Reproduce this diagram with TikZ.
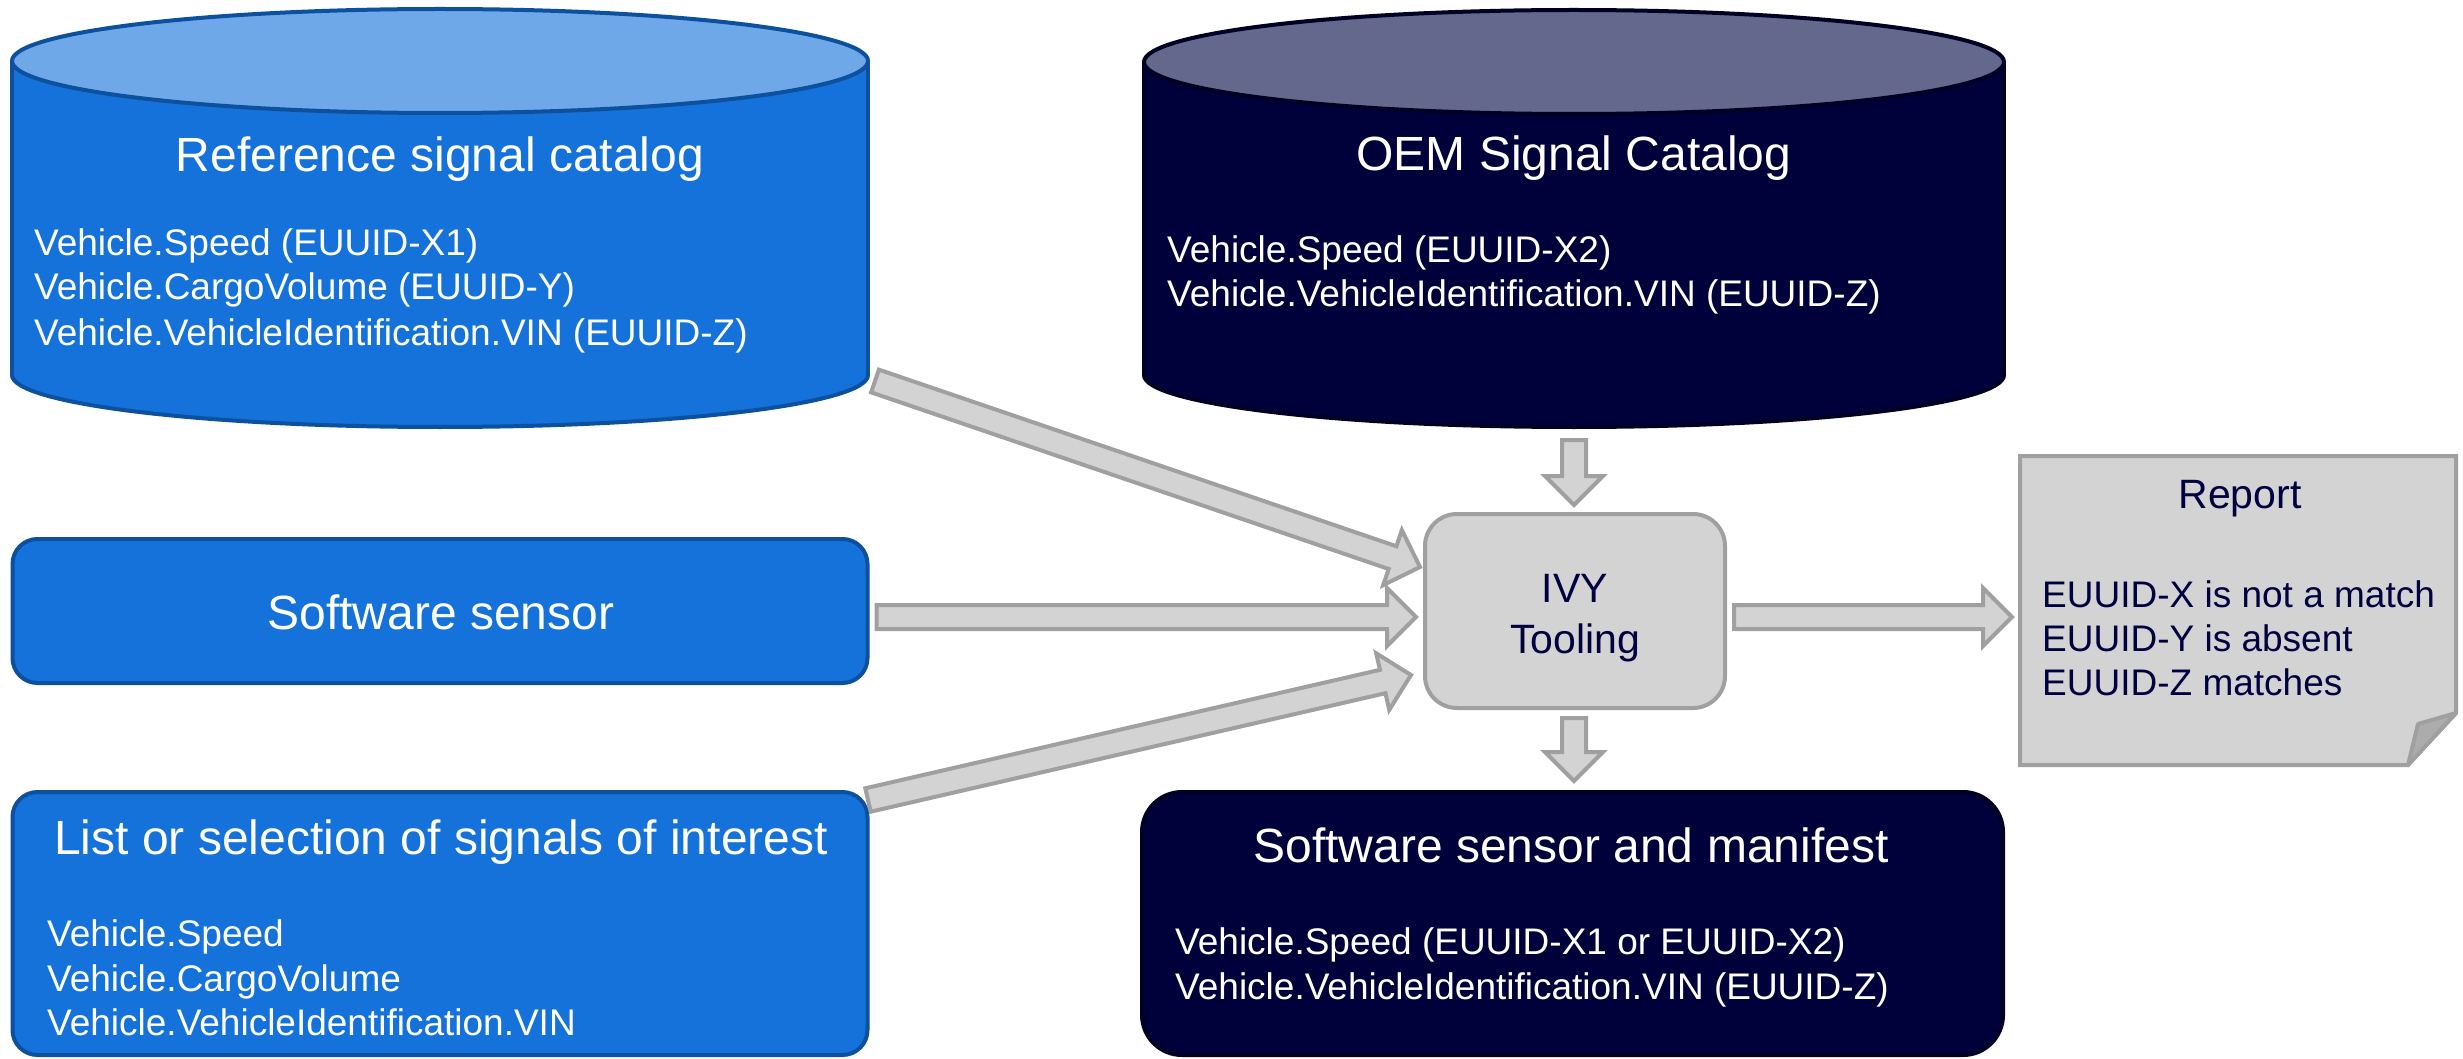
\documentclass[tikz,border=0pt]{standalone}
\usepackage{fontspec}
\setmainfont{Liberation Sans}
\usetikzlibrary{calc}

\definecolor{refblue}{RGB}{20,114,218}
\definecolor{reftop}{RGB}{110,168,232}
\definecolor{refedge}{RGB}{12,80,158}
\definecolor{navy}{RGB}{0,0,58}
\definecolor{oemtop}{RGB}{100,104,140}
\definecolor{oemedge}{RGB}{0,0,36}
\definecolor{boxgray}{RGB}{211,211,211}
\definecolor{edgegray}{RGB}{160,160,160}
\definecolor{foldgray}{RGB}{172,172,172}
\definecolor{txtnavy}{RGB}{0,0,64}

\tikzset{
  cyltitle/.style={anchor=base, inner sep=0pt, text=white, font=\fontsize{48}{58}\selectfont},
  bodyline/.style={anchor=base west, inner sep=0pt, text=white, font=\fontsize{37}{45}\selectfont},
  darktitle/.style={anchor=base, inner sep=0pt, text=txtnavy, font=\fontsize{41}{50}\selectfont},
  darkline/.style={anchor=base west, inner sep=0pt, text=txtnavy, font=\fontsize{37}{45}\selectfont},
  bluebox/.style={draw=refedge, fill=refblue, line width=4pt, rounded corners=25pt, inner sep=0pt},
  navybox/.style={draw=oemedge, fill=navy, line width=4pt, rounded corners=40pt, inner sep=0pt},
  graybox/.style={draw=edgegray, fill=boxgray, line width=4pt, rounded corners=32pt, inner sep=0pt},
  blockarrow/.style={draw=edgegray, fill=boxgray, line width=4pt, line join=miter},
}

% block arrow from #1 (tail centre) to #2 (tip)
\newcommand{\blockarrow}[2]{%
  \path[blockarrow] let \p1=(#1), \p2=(#2),
      \n1={atan2(\y2-\y1,\x2-\x1)},
      \n2={veclen(\x2-\x1,\y2-\y1)},
      \n3={\n2-29pt} in
    ($(\p1)+({\n1+90}:12pt)$) -- ++(\n1:\n3) -- ++({\n1+90}:17pt) -- (\p2)
    -- ($(\p2)+({\n1+180}:29pt)+({\n1-90}:29pt)$) -- ++({\n1+90}:17pt)
    -- ($(\p1)+({\n1-90}:12pt)$) -- cycle;
}

\begin{document}
\begin{tikzpicture}[x=1pt,y=-1pt]
\useasboundingbox[fill=white] (0,0) rectangle (2463,1059);

% ---------- Reference signal catalog (cylinder) ----------
\node[minimum width=856pt, minimum height=419pt, inner sep=0pt] (refcyl) at (440,217.5) {};
\filldraw[fill=refblue, draw=refedge, line width=4pt] (440,375) ellipse (428pt and 52pt);
\fill[refblue] (12,61) rectangle (868,375);
\draw[refedge, line width=4pt] (12,61) -- (12,375) (868,61) -- (868,375);
\filldraw[fill=reftop, draw=refedge, line width=4pt] (440,61) ellipse (428pt and 52pt);
\node[cyltitle] (reftitle) at (440,172) {Reference signal catalog};
\node[bodyline] (ref1) at (34,256) {Vehicle.Speed (EUUID-X1)};
\node[bodyline] (ref2) at (34,300) {Vehicle.CargoVolume (EUUID-Y)};
\node[bodyline] (ref3) at (34,345) {Vehicle.VehicleIdentification.VIN (EUUID-Z)};

% ---------- OEM Signal Catalog (cylinder) ----------
\node[minimum width=860pt, minimum height=419pt, inner sep=0pt] (oemcyl) at (1574,217.5) {};
\filldraw[fill=navy, draw=oemedge, line width=4pt] (1574,375) ellipse (430pt and 52pt);
\fill[navy] (1144,62) rectangle (2004,375);
\draw[oemedge, line width=4pt] (1144,62) -- (1144,375) (2004,62) -- (2004,375);
\filldraw[fill=oemtop, draw=oemedge, line width=4pt] (1574,62) ellipse (430pt and 52pt);
\node[cyltitle] (oemtitle) at (1574,171) {OEM Signal Catalog};
\node[bodyline] (oem1) at (1167,263) {Vehicle.Speed (EUUID-X2)};
\node[bodyline] (oem2) at (1167,307) {Vehicle.VehicleIdentification.VIN (EUUID-Z)};

% ---------- Software sensor ----------
\node[bluebox, minimum width=855pt, minimum height=144pt] (ss) at (440,611) {};
\node[cyltitle] (sstext) at (441,629) {Software sensor};

% ---------- List of signals ----------
\node[bluebox, minimum width=855pt, minimum height=263pt] (list) at (440,923.5) {};
\node[cyltitle] (listtitle) at (441,854) {List or selection of signals of interest};
\node[bodyline] (list1) at (47,946) {Vehicle.Speed};
\node[bodyline] (list2) at (47,991) {Vehicle.CargoVolume};
\node[bodyline] (list3) at (47,1035) {Vehicle.VehicleIdentification.VIN};

% ---------- Software sensor and manifest ----------
\node[navybox, minimum width=861pt, minimum height=263pt] (man) at (1572.5,923.5) {};
\node[cyltitle] (mantitle) at (1571,862) {Software sensor and manifest};
\node[bodyline] (man1) at (1175,954) {Vehicle.Speed (EUUID-X1 or EUUID-X2)};
\node[bodyline] (man2) at (1175,999) {Vehicle.VehicleIdentification.VIN (EUUID-Z)};

% ---------- IVY Tooling ----------
\node[graybox, minimum width=300pt, minimum height=194pt] (ivy) at (1575,611) {};
\node[darktitle] (ivy1) at (1575,602) {IVY};
\node[darktitle] (ivy2) at (1575,653) {Tooling};

% ---------- Report ----------
\node[minimum width=436pt, minimum height=309pt, inner sep=0pt] (report) at (2238,610.5) {};
\draw[fill=boxgray, draw=edgegray, line width=4pt, line join=miter]
  (2020,456) -- (2456,456) -- (2456,713) -- (2408,765) -- (2020,765) -- cycle;
\draw[fill=foldgray, draw=edgegray, line width=4pt, line join=round]
  (2456,713) -- (2418,724) -- (2408,765) -- cycle;
\node[darktitle] (reptitle) at (2240,508) {Report};
\node[darkline] (rep1) at (2042,607) {EUUID-X is not a match};
\node[darkline] (rep2) at (2042,651) {EUUID-Y is absent};
\node[darkline] (rep3) at (2042,695) {EUUID-Z matches};

% ---------- connector end points ----------
\coordinate (a1s) at (875,381);
\coordinate (a1e) at ($(ivy.west)+(-3,-44)$);
\coordinate (a2s) at ($(ss.east)+(7,6)$);
\coordinate (a2e) at ($(ivy.west)+(-7,6)$);
\coordinate (a3s) at (868,800);
\coordinate (a3e) at ($(ivy.west)+(-12,64)$);
\coordinate (a4s) at (1574,440);
\coordinate (a4e) at ($(ivy.north)+(-1,-7)$);
\coordinate (a5s) at ($(ivy.south)+(-1,8)$);
\coordinate (a5e) at ($(man.north)+(1.5,-9)$);
\coordinate (a6s) at ($(ivy.east)+(7,6)$);
\coordinate (a6e) at (2012,617);

\blockarrow{a1s}{a1e}
\blockarrow{a2s}{a2e}
\blockarrow{a3s}{a3e}
\blockarrow{a4s}{a4e}
\blockarrow{a5s}{a5e}
\blockarrow{a6s}{a6e}
\end{tikzpicture}
\end{document}
